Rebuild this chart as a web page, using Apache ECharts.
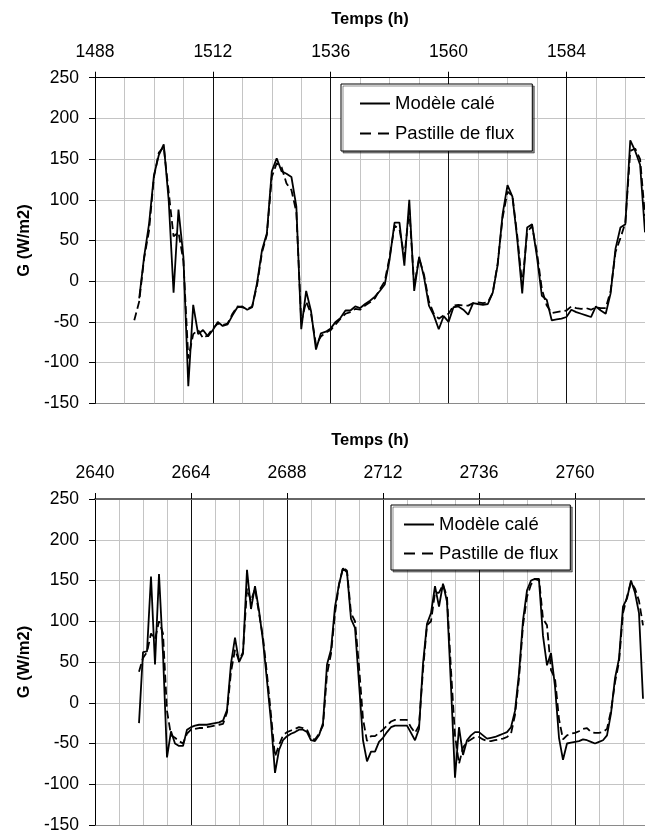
<!DOCTYPE html>
<html>
<head>
<meta charset="utf-8">
<style>
  html, body { margin: 0; padding: 0; background: #fff; }
  #chart { width: 645px; height: 835px; }
</style>
<script src="https://cdn.jsdelivr.net/npm/echarts@6/dist/echarts.min.js"></script>
</head>
<body>
<div id="chart"></div>
<script>
// Hourly heat flux G (W/m2): calibrated model vs. flux sensor, two periods.
const seriesNames = ['Modèle calé', 'Pastille de flux'];
const axisTitleX = 'Temps (h)';
const axisTitleY = 'G (W/m2)';

// Period 1: hours 1496 .. 1600
const topStart = 1496;
const topModel = [
  null, -21, 30, 70, 130, 155, 168, 100, -14, 88,
  30, -129, -29, -65, -60, -68, -60, -50, -55, -53,
  -42, -32, -31, -35, -32, -2, 38, 59, 135, 151,
  135, 132, 128, 92, -59, -12, -37, -84, -64, -62,
  -58, -50, -45, -36, -36, -31, -33, -28, -24, -19,
  -12, -4, 27, 72, 72, 19, 100, -12, 30, 5,
  -30, -42, -59, -43, -50, -32, -31, -35, -41, -27,
  -28, -29, -28, -14, 20, 82, 118, 104, 51, -15,
  66, 70, 30, -18, -23, -48, -47, -46, -44, -35,
  -38, -40, -42, -44, -31, -36, -40, -15, 40, 66,
  70, 173, 160, 143, 60
];
const topSensor = [
  -48, -25, 28, 62, 128, 158, 165, 110, 55, 60,
  25, -95, -65, -60, -70, -66, -58, -52, -54, -52,
  -40, -31, -32, -34, -31, -5, 35, 57, 128, 145,
  140, 120, 112, 85, -50, -25, -40, -78, -68, -63,
  -60, -53, -46, -40, -38, -34, -35, -30, -26, -21,
  -10, 0, 30, 68, 64, 30, 88, -5, 28, 8,
  -25, -40, -46, -42, -40, -30, -29, -30, -30, -27,
  -26, -27, -26, -14, 22, 78, 110, 105, 55, -5,
  60, 68, 35, -10, -30, -39, -38, -37, -36, -31,
  -33, -34, -33, -35, -32, -33, -33, -12, 36, 53,
  72, 160, 163, 150, 80
];

// Period 2: hours 2651 .. 2777
const botStart = 2651;
const botModel = [
  -25, 62, 63, 155, 47, 158, 60, -67, -35, -50,
  -53, -53, -33, -30, -28, -27, -27, -27, -26, -25,
  -24, -22, -9, 48, 80, 50, 60, 163, 115, 143,
  113, 76, 27, -23, -86, -58, -46, -41, -38, -36,
  -33, -33, -36, -46, -47, -40, -25, 47, 65, 118,
  145, 165, 160, 103, 92, 24, -46, -72, -60, -60,
  -48, -43, -36, -30, -28, -28, -28, -28, -37, -46,
  -32, 48, 97, 110, 143, 118, 146, 124, 20, -92,
  -30, -64, -46, -40, -36, -36, -40, -44, -43, -42,
  -40, -38, -36, -30, -10, 36, 101, 138, 150, 152,
  150, 82, 46, 61, 20, -43, -70, -50, -49, -48,
  -47, -45, -46, -48, -50, -48, -46, -40, -13, 30,
  54, 118, 128, 150, 135, 110, 5
];
const botSensor = [
  38, 55, 62, 85, 78, 100, 85, -10, -40, -43,
  -47, -50, -38, -33, -32, -31, -31, -30, -29, -28,
  -27, -26, -12, 38, 65, 52, 62, 140, 125, 140,
  110, 80, 35, -15, -66, -52, -40, -36, -34, -32,
  -30, -31, -33, -44, -45, -38, -28, 35, 60, 110,
  145, 166, 162, 110, 100, 45, -20, -47, -41, -41,
  -37, -33, -28, -23, -21, -21, -21, -21, -30, -37,
  -28, 40, 95, 100, 135, 135, 145, 130, 40, -40,
  -75, -55, -48, -45, -42, -42, -45, -47, -47, -46,
  -45, -44, -42, -38, -15, 30, 95, 130, 145, 152,
  152, 103, 95, 40, 30, -20, -45, -40, -38, -37,
  -35, -32, -31, -36, -37, -37, -36, -32, -10, 25,
  50, 110, 130, 148, 140, 125, 95
];

const yTicks = { min: -150, max: 250, step: 50 };
const topRange = { min: 1488, max: 1600 };
const botRange = { min: 2640, max: 2777.5 };
const majorStep = 24;
const minorStep = 6;

const FONT = '"Liberation Sans", Arial, Helvetica, sans-serif';

function toPairs(start, vals) {
  return vals.map((v, i) => [start + i, v]);
}

function minorAxis(gridIndex, range) {
  return {
    type: 'value', gridIndex, position: 'bottom',
    min: range.min, max: range.max, interval: minorStep,
    axisLine: { show: false }, axisTick: { show: false }, axisLabel: { show: false },
    splitLine: { show: true, lineStyle: { color: '#c4c4c4', width: 1 } }
  };
}

function majorAxis(gridIndex, range, lineStyle) {
  return {
    type: 'value', gridIndex, position: 'top',
    min: range.min, max: range.max, interval: majorStep,
    name: axisTitleX, nameLocation: 'middle', nameGap: 50,
    nameTextStyle: { fontFamily: FONT, fontWeight: 'bold', fontSize: 16.5, color: '#000' },
    axisLine: { show: true, onZero: false, lineStyle },
    axisTick: { show: true, length: 6, lineStyle: { color: '#000', width: 1 } },
    axisLabel: {
      show: true, margin: 17, fontFamily: FONT, fontSize: 17.5, color: '#000',
      showMaxLabel: false,
      formatter: v => String(v)
    },
    splitLine: { show: true, lineStyle: { color: '#111', width: 1 } }
  };
}

function yAxis(gridIndex) {
  return {
    type: 'value', gridIndex,
    min: yTicks.min, max: yTicks.max, interval: yTicks.step,
    name: axisTitleY, nameLocation: 'middle', nameGap: 62, nameRotate: 90,
    nameTextStyle: { fontFamily: FONT, fontWeight: 'bold', fontSize: 16.5, color: '#000' },
    axisLine: { show: true, onZero: false, lineStyle: { color: '#000', width: 1 } },
    axisTick: { show: true, length: 6, lineStyle: { color: '#000', width: 1 } },
    axisLabel: { margin: 16, fontFamily: FONT, fontSize: 17.5, color: '#000' },
    splitLine: {
      show: true,
      lineStyle: {
        color: ['#8a8a8a', '#c4c4c4', '#c4c4c4', '#c4c4c4', '#c4c4c4', '#c4c4c4', '#c4c4c4', '#c4c4c4', '#c4c4c4'],
        width: 1
      }
    }
  };
}

function legendBox(left, top, padding, itemGap) {
  return {
    orient: 'vertical', left, top, padding, itemGap,
    itemWidth: 30, itemHeight: 14,
    backgroundColor: '#fff', borderColor: '#000', borderWidth: 1,
    shadowColor: 'rgba(0,0,0,0.45)', shadowOffsetX: 2, shadowOffsetY: 2, shadowBlur: 0,
    itemStyle: { opacity: 0 },
    textStyle: { fontFamily: FONT, fontSize: 18.5, color: '#000' },
    data: [
      { name: seriesNames[0] },
      { name: seriesNames[1], lineStyle: { type: [11, 7] } }
    ],
    selectedMode: false
  };
}

function lineSeries(name, xAxisIndex, yAxisIndex, data, dashed) {
  return {
    name, type: 'line', xAxisIndex, yAxisIndex, data,
    symbol: 'none', showSymbol: false, connectNulls: false,
    lineStyle: { color: '#000', width: 1.8, type: dashed ? [8, 4] : 'solid' },
    itemStyle: { color: '#000' },
    emphasis: { disabled: true },
    z: dashed ? 3 : 4
  };
}

const chart = echarts.init(document.getElementById('chart'), null, { renderer: 'canvas' });
chart.setOption({
  animation: false,
  backgroundColor: '#fff',
  textStyle: { fontFamily: FONT },
  grid: [
    { left: 95, top: 77.7, right: 0, height: 325.6 },
    { left: 95, top: 499, right: 0, height: 326 }
  ],
  xAxis: [
    minorAxis(0, topRange),
    majorAxis(0, topRange, { color: '#000', width: 1 }),
    minorAxis(1, botRange),
    majorAxis(1, botRange, { color: '#666', width: 2 })
  ],
  yAxis: [yAxis(0), yAxis(1)],
  legend: [
    legendBox(341, 84, [10, 18, 8, 18], 11),
    legendBox(391, 505, [10, 12, 7, 12], 10)
  ],
  series: [
    lineSeries(seriesNames[1], 1, 0, toPairs(topStart, topSensor), true),
    lineSeries(seriesNames[0], 1, 0, toPairs(topStart, topModel), false),
    lineSeries(seriesNames[1], 3, 1, toPairs(botStart, botSensor), true),
    lineSeries(seriesNames[0], 3, 1, toPairs(botStart, botModel), false)
  ]
});
</script>
</body>
</html>
